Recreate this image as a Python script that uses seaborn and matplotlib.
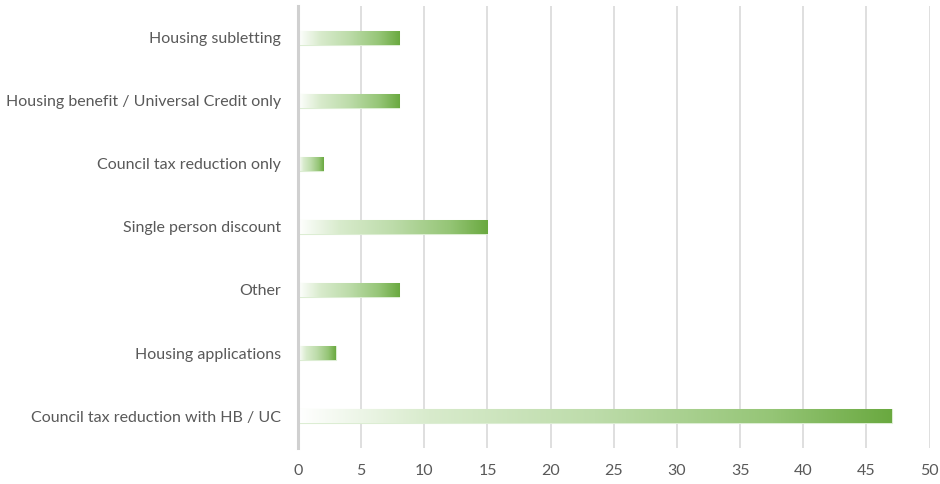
import numpy as np
import pandas as pd
import matplotlib
matplotlib.use("Agg")
import matplotlib.pyplot as plt
from matplotlib.colors import LinearSegmentedColormap
import seaborn as sns

categories = [
    "Housing subletting",
    "Housing benefit / Universal Credit only",
    "Council tax reduction only",
    "Single person discount",
    "Other",
    "Housing applications",
    "Council tax reduction with HB / UC",
]
counts = [8, 8, 2, 15, 8, 3, 47]
x_ticks = [0, 5, 10, 15, 20, 25, 30, 35, 40, 45, 50]

sns.set_theme(style="white")
plt.rcParams["font.family"] = ["Lato", "DejaVu Sans"]

df = pd.DataFrame({"category": categories, "count": counts})

fig = plt.figure(figsize=(9.4, 4.84), dpi=100)
ax = fig.add_axes([0.317, 0.0754, 0.672, 0.9112])

sns.barplot(data=df, x="count", y="category", orient="h", ax=ax,
            width=0.235, color="#70ad47")

ax.set_xlim(0, 50)
ax.set_xticks(x_ticks)
ax.xaxis.grid(True, color="#d9d9d9", linewidth=1.2)
ax.set_axisbelow(True)
for s in ["top", "right", "bottom"]:
    ax.spines[s].set_visible(False)
ax.spines["left"].set_color("#d0d0d0")
ax.spines["left"].set_linewidth(2.2)

# horizontal fade from white to green inside each bar
grad = LinearSegmentedColormap.from_list(
    "bar_fade", [(0.0, "#ffffff"), (0.22, "#d8ebcc"), (0.5, "#bddcaa"),
                 (0.8, "#95c576"), (1.0, "#6aa940")])
row = np.linspace(0, 1, 256).reshape(1, -1)
for patch in ax.patches:
    x0, y0 = patch.get_x(), patch.get_y()
    w, h = patch.get_width(), patch.get_height()
    patch.set_facecolor("none")
    patch.set_edgecolor("#dcedd3")
    patch.set_linewidth(0.8)
    im = ax.imshow(row, cmap=grad, aspect="auto", extent=(x0, x0 + w, y0 + h, y0),
                   interpolation="bilinear", zorder=patch.get_zorder())
    im.set_clip_path(patch)
ax.set_xlim(0, 50)
ax.set_ylim(6.5, -0.5)

ax.set_xlabel("")
ax.set_ylabel("")
ax.tick_params(axis="both", colors="#595959", labelsize=11.5, length=0)
ax.tick_params(axis="x", pad=12)
ax.tick_params(axis="y", pad=12)

fig.savefig("out.png", dpi=100)
